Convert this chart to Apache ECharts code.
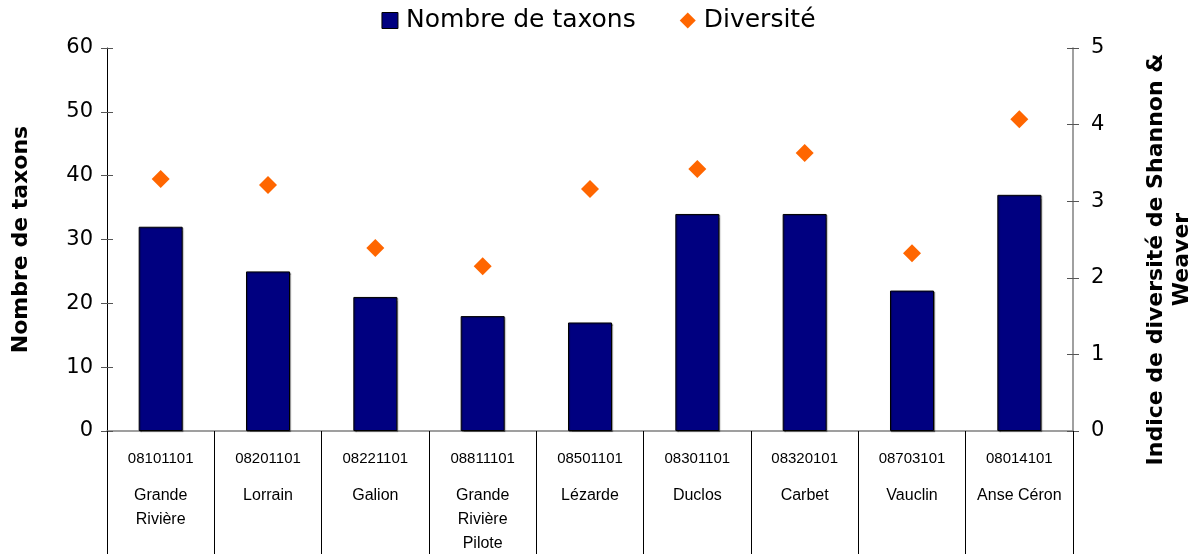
<!DOCTYPE html>
<html>
<head>
<meta charset="utf-8">
<script src="https://cdn.jsdelivr.net/npm/echarts@6/dist/echarts.min.js"></script>
<style>
  html, body { margin: 0; padding: 0; background: #fff; }
  #chart { width: 1197px; height: 554px; }
</style>
</head>
<body>
<div id="chart"></div>
<script>
// station codes and river names
const codes = ['08101101', '08201101', '08221101', '08811101', '08501101', '08301101', '08320101', '08703101', '08014101']
const names = ['Grande\nRivière', 'Lorrain', 'Galion', 'Grande\nRivière\nPilote', 'Lézarde', 'Duclos', 'Carbet', 'Vauclin', 'Anse Céron']
const taxons = [32, 25, 21, 18, 17, 34, 34, 22, 37]
const diversite = [3.29, 3.21, 2.39, 2.15, 3.16, 3.42, 3.63, 2.32, 4.07]

const axisFont = 'DejaVu Sans, Verdana, sans-serif'
const labelFont = 'Liberation Sans, Arial, sans-serif'

const chart = echarts.init(document.getElementById('chart'))
chart.setOption({
  animation: false,
  legend: {
    top: 3,
    left: 'center',
    itemWidth: 16,
    itemHeight: 16,
    itemGap: 44,
    textStyle: { fontFamily: axisFont, fontSize: 25, color: '#000', padding: [0, 0, 0, 3] },
    data: [
      { name: 'Nombre de taxons', icon: 'rect', itemStyle: { color: '#000080', borderColor: '#000', borderWidth: 1 } },
      { name: 'Diversité', icon: 'diamond', itemStyle: { color: '#ff6600', opacity: 1 } }
    ]
  },
  grid: { left: 107, right: 124, top: 48, bottom: 123, outerBoundsMode: 'none', containLabel: false },
  xAxis: {
    type: 'category',
    data: codes,
    boundaryGap: true,
    axisLine: { lineStyle: { color: '#808080', width: 1.5 } },
    axisTick: { show: true, interval: 0, length: 123, lineStyle: { color: '#000', width: 1 } },
    axisLabel: {
      interval: 0,
      margin: 3,
      formatter: (val, i) => `{c|${val}}\n` + names[i].split('\n').map(s => `{n|${s}}`).join('\n'),
      rich: {
        c: { fontFamily: labelFont, fontSize: 15, color: '#000', lineHeight: 50 },
        n: { fontFamily: labelFont, fontSize: 16, color: '#000', lineHeight: 24 }
      }
    }
  },
  yAxis: [
    {
      type: 'value',
      position: 'left',
      min: 0, max: 60, interval: 10,
      name: 'Nombre de taxons',
      nameLocation: 'middle',
      nameRotate: 90,
      nameGap: 75,
      nameTextStyle: { fontFamily: axisFont, fontWeight: 'bold', fontSize: 22, color: '#000' },
      axisLine: { show: true, lineStyle: { color: '#000' } },
      axisTick: { show: true, length: 6, lineStyle: { color: '#555' } },
      axisLabel: { margin: 14, fontFamily: axisFont, fontSize: 21, color: '#000' },
      splitLine: { show: false }
    },
    {
      type: 'value',
      position: 'right',
      min: 0, max: 5, interval: 1,
      name: 'Indice de diversité de Shannon &\nWeaver',
      nameLocation: 'middle',
      nameRotate: 90,
      nameGap: 70,
      nameTextStyle: { fontFamily: axisFont, fontWeight: 'bold', fontSize: 22, color: '#000', lineHeight: 26, padding: [0, 40, 0, 0] },
      axisLine: { show: true, lineStyle: { color: '#808080', width: 1.5 } },
      axisTick: { show: true, length: 6, lineStyle: { color: '#555' } },
      axisLabel: { margin: 18, fontFamily: axisFont, fontSize: 21, color: '#000' },
      splitLine: { show: false }
    },
    {
      type: 'value',
      position: 'left',
      min: 0, max: 60, interval: 10,
      axisLine: { show: false },
      axisTick: { show: true, inside: true, length: 6, lineStyle: { color: '#555' } },
      axisLabel: { show: false },
      splitLine: { show: false }
    },
    {
      type: 'value',
      position: 'right',
      min: 0, max: 5, interval: 1,
      axisLine: { show: false },
      axisTick: { show: true, inside: true, length: 6, lineStyle: { color: '#555' } },
      axisLabel: { show: false },
      splitLine: { show: false }
    }
  ],
  series: [
    {
      name: 'Nombre de taxons',
      type: 'bar',
      yAxisIndex: 0,
      barWidth: '41%',
      data: taxons,
      itemStyle: {
        color: '#000080',
        borderColor: '#000',
        borderWidth: 1,
        shadowColor: 'rgba(0,0,0,0.35)',
        shadowOffsetX: 1,
        shadowOffsetY: 1,
        shadowBlur: 1
      }
    },
    {
      name: 'Diversité',
      type: 'scatter',
      yAxisIndex: 1,
      symbol: 'diamond',
      symbolSize: 18,
      data: diversite,
      itemStyle: { color: '#ff6600', opacity: 1 }
    }
  ]
})
</script>
</body>
</html>
